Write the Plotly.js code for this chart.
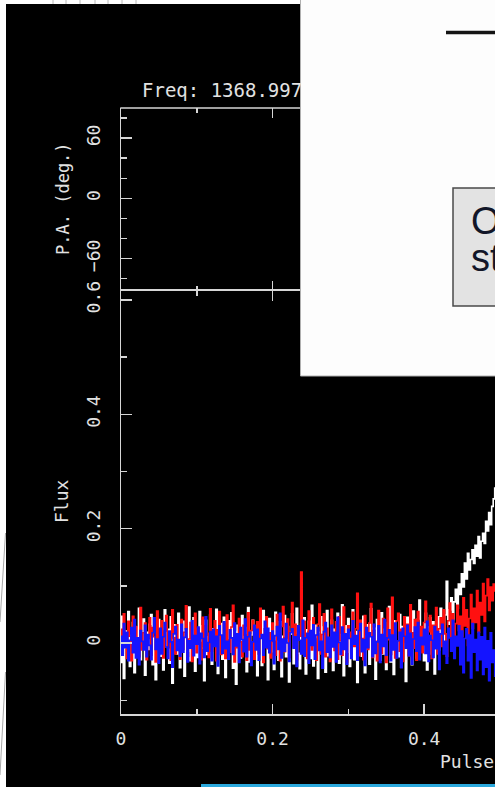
<!DOCTYPE html>
<html>
<head>
<meta charset="utf-8">
<script src="https://cdn.plot.ly/plotly-3.0.1.min.js"></script>
<style>html,body{margin:0;padding:0;background:#000;overflow:hidden}#chart{width:495px;height:787px}</style>
</head>
<body>
<div id="chart"></div>
<script>
// Pulse phase bins: start 0, width 0.002
var phaseStart = 0;
var phaseStep = 0.002;

// Total intensity (white)
var fluxI = [
-0.034,0.047,-0.062,0.021,-0.008,0.055,-0.041,0.013,0.036,-0.052,0.028,-0.017,0.061,-0.029,0.004,0.042,-0.056,0.019,-0.011,0.033,
0.050,-0.038,0.009,-0.064,0.027,0.041,-0.023,0.015,-0.047,0.058,-0.006,0.024,-0.035,0.046,-0.070,0.012,0.032,-0.019,0.052,-0.043,
0.007,0.038,-0.058,0.022,-0.014,0.063,-0.031,0.001,0.044,-0.049,0.018,-0.025,0.055,-0.009,0.030,-0.066,0.040,-0.020,0.011,0.049,
-0.037,0.025,-0.003,0.059,-0.053,0.016,0.034,-0.028,0.045,-0.060,0.008,0.039,-0.016,0.053,-0.044,0.020,-0.072,0.031,0.002,-0.026,
0.048,-0.011,0.027,-0.050,0.062,-0.033,0.014,0.040,-0.021,0.005,-0.057,0.036,0.017,-0.039,0.057,-0.007,0.026,-0.064,0.043,-0.015,
0.021,-0.046,0.054,0.003,-0.030,0.037,-0.059,0.012,0.048,-0.024,0.029,-0.068,0.016,0.051,-0.036,0.009,0.061,-0.018,-0.045,0.034,
-0.005,0.044,-0.054,0.023,0.038,-0.027,0.066,-0.040,0.010,0.031,-0.062,0.019,0.046,-0.013,0.028,-0.051,0.057,-0.022,0.006,0.040,
-0.048,0.024,-0.009,0.052,-0.035,0.015,0.067,-0.057,0.030,-0.016,0.043,-0.041,0.003,0.058,-0.029,0.020,-0.069,0.035,0.011,-0.023,
0.047,-0.052,0.018,0.032,-0.037,0.060,-0.012,0.026,-0.063,0.041,0.007,-0.030,0.053,-0.019,0.036,-0.046,0.014,0.064,-0.033,0.022,
-0.055,0.039,0.001,-0.024,0.050,-0.042,0.029,0.012,-0.067,0.045,-0.008,0.033,-0.038,0.056,0.017,-0.026,0.042,0.075,0.024,0.009,
-0.031,0.052,-0.047,0.028,0.044,-0.019,0.037,-0.054,0.015,0.046,-0.012,0.061,0.020,0.004,0.049,0.108,0.033,0.058,0.079,0.041,
0.072,0.094,0.061,0.103,0.085,0.121,0.098,0.140,0.112,0.157,0.128,0.146,0.163,0.139,0.171,0.152,0.186,0.149,0.178,0.192,
0.174,0.213,0.196,0.228,0.207,0.239,0.252,0.271
];

// Linear polarization (red)
var fluxL = [
0.024,-0.018,0.051,0.006,-0.027,0.038,0.012,-0.031,0.047,-0.009,0.029,0.003,-0.024,0.062,-0.012,0.018,0.035,-0.029,0.008,0.044,
-0.021,0.027,0.011,-0.033,0.056,0.002,-0.015,0.039,-0.026,0.021,0.048,-0.008,0.015,-0.030,0.058,0.009,-0.019,0.032,0.004,-0.028,
0.041,-0.011,0.019,0.065,-0.023,0.007,0.036,-0.032,0.013,0.052,-0.017,0.026,0.001,-0.029,0.045,-0.006,0.030,0.017,-0.025,0.060,
-0.014,0.008,0.039,-0.031,0.023,0.055,-0.020,0.010,0.034,-0.027,0.049,0.005,-0.016,0.028,0.066,-0.033,0.016,-0.008,0.043,0.002,
-0.024,0.031,0.014,-0.030,0.053,-0.012,0.022,0.040,-0.028,0.006,0.037,-0.019,0.061,0.011,-0.034,0.025,0.046,-0.010,0.018,-0.026,
0.035,0.003,-0.021,0.050,0.016,-0.031,0.029,0.064,-0.015,0.009,0.042,-0.025,0.020,0.071,-0.007,0.033,-0.029,0.014,0.012,0.124,
-0.018,0.038,0.007,-0.027,0.056,0.021,-0.012,0.044,0.000,-0.030,0.033,0.068,-0.019,0.015,0.051,-0.024,0.026,0.009,-0.032,0.059,
0.017,-0.013,0.037,-0.028,0.046,0.004,-0.021,0.063,0.012,-0.033,0.030,0.019,-0.016,0.054,-0.006,0.025,0.087,-0.022,0.040,0.008,
-0.029,0.048,0.015,-0.011,0.035,0.069,-0.025,0.022,0.003,-0.031,0.057,0.010,-0.018,0.043,0.027,-0.034,0.061,0.006,-0.020,0.080,
0.013,-0.026,0.039,0.052,-0.014,0.024,-0.032,0.046,0.001,0.033,-0.022,0.067,0.018,-0.009,0.041,-0.030,0.055,0.011,0.029,-0.017,
0.036,0.073,-0.012,0.020,0.048,-0.027,0.031,0.007,0.062,-0.019,0.025,0.044,-0.006,0.058,0.016,-0.023,0.039,0.070,0.004,0.051,
-0.010,0.034,0.066,0.022,0.047,0.012,0.079,0.030,0.058,-0.004,0.043,0.085,0.026,0.061,0.036,0.092,0.019,0.071,0.049,0.104,
0.038,0.083,0.112,0.057,0.098,0.074,0.103,0.091
];

// Circular polarization (blue)
var fluxV = [
0.012,-0.021,0.034,-0.008,0.019,-0.031,0.005,0.027,-0.017,0.041,-0.026,0.009,-0.038,0.022,0.003,-0.012,0.031,-0.024,0.015,-0.004,
-0.029,0.018,0.044,-0.011,0.007,-0.035,0.026,-0.019,0.011,0.036,-0.007,-0.027,0.021,0.002,-0.042,0.016,0.029,-0.013,0.006,-0.023,
0.033,-0.016,0.010,0.025,-0.033,0.004,-0.009,0.039,-0.022,0.013,-0.002,0.028,-0.036,0.017,0.008,-0.025,0.046,-0.014,0.001,0.020,
-0.031,0.024,-0.006,0.012,-0.040,0.030,0.014,-0.018,0.037,-0.010,0.003,-0.028,0.023,0.009,-0.020,0.035,-0.005,0.016,-0.034,0.027,
0.006,-0.015,0.042,-0.024,0.011,0.019,-0.039,0.002,0.031,-0.012,0.024,-0.030,0.008,0.015,-0.021,0.038,-0.008,0.026,-0.017,0.004,
0.021,-0.036,0.013,0.029,-0.011,0.052,-0.026,0.007,-0.014,0.034,0.000,-0.032,0.018,0.025,-0.009,0.011,-0.041,0.030,0.005,-0.019,
0.040,-0.023,0.009,0.017,-0.035,0.022,-0.004,0.032,-0.028,0.014,0.027,-0.013,0.003,-0.044,0.020,0.036,-0.016,0.010,-0.025,0.031,
-0.007,0.019,-0.033,0.045,0.001,-0.020,0.028,-0.011,0.016,-0.037,0.024,0.008,-0.027,0.039,-0.002,0.013,-0.030,0.022,0.034,-0.015,
0.006,-0.039,0.027,-0.008,0.018,0.011,-0.024,0.033,-0.018,0.002,0.030,-0.034,0.015,-0.006,0.041,-0.021,0.009,0.023,-0.031,0.014,
-0.012,0.035,-0.026,0.004,0.019,-0.043,0.026,0.012,-0.009,0.031,-0.022,0.017,-0.037,0.007,0.028,-0.014,0.036,-0.029,0.010,-0.003,
0.024,-0.018,0.038,-0.032,0.013,0.005,-0.025,0.029,-0.010,0.020,-0.046,0.016,0.033,-0.019,0.003,-0.035,0.026,0.009,-0.014,0.040,
-0.027,0.012,-0.005,0.030,-0.038,0.021,-0.052,0.008,0.025,-0.031,0.014,-0.061,0.034,-0.016,0.006,-0.048,0.019,-0.029,0.011,-0.055,
0.027,-0.042,0.004,-0.066,0.018,-0.034,-0.012,-0.058
];

// Position angle points (none visible in this window)
var paPhase = [];
var paDeg = [];

var W = 495, H = 787, ML = 121, MR = 0, MT = 108, MB = 73;
function PX(px){ return (px - ML) / (W - ML - MR); }
function PY(py){ return (H - MB - py) / (H - MT - MB); }

var axCol = '#d6d6d6';
var txtCol = '#e2e2e2';
var mono = 'DejaVu Sans Mono, monospace';

function tr(y, col){
  return {type:'scatter', mode:'lines', x0:phaseStart, dx:phaseStep, y:y,
    xaxis:'x', yaxis:'y', line:{color:col, width:1.6, shape:'hvh'}, hoverinfo:'skip'};
}
var data = [
  tr(fluxI, '#ffffff'),
  tr(fluxL, '#ff1010'),
  tr(fluxV, '#1414ff'),
  {type:'scatter', mode:'markers', x:paPhase, y:paDeg, xaxis:'x2', yaxis:'y2', marker:{color:'#fff', size:3}}
];

var splitY = PY(290.7);
var baseX = {
  ticks:'inside', ticklen:10, tickwidth:1.5, tickcolor:axCol,
  showline:true, linecolor:axCol, linewidth:1.5, mirror:'ticks',
  showgrid:false, zeroline:false, dtick:0.2, tick0:0,
  minor:{dtick:0.1, ticks:'inside', ticklen:5, tickwidth:1.5, tickcolor:axCol, showgrid:false},
  tickfont:{family:mono, size:18, color:txtCol}
};
var layout = {
  width:W, height:H,
  margin:{l:ML, r:MR, t:MT, b:MB, pad:0},
  paper_bgcolor:'#000', plot_bgcolor:'#000',
  showlegend:false,
  xaxis: Object.assign({}, baseX, {domain:[0,1], anchor:'y', range:[0, 0.4934], ticklabelstandoff:8}),
  xaxis2: Object.assign({}, baseX, {domain:[0,1], anchor:'y2', matches:'x', showticklabels:false, showline:false}),
  yaxis: {domain:[0, splitY], anchor:'x', range:[-0.124, 0.616], dtick:0.2, tick0:0,
    ticks:'inside', ticklen:11, tickwidth:1.5, tickcolor:axCol,
    showline:true, linecolor:axCol, linewidth:1.5, showgrid:false, zeroline:false,
    minor:{dtick:0.1, ticks:'inside', ticklen:6, tickwidth:1.5, tickcolor:axCol, showgrid:false},
    tickangle:-90, ticklabelstandoff:12, tickfont:{family:mono, size:18, color:txtCol}},
  yaxis2: {domain:[splitY, 1], anchor:'x2', range:[-92, 90], dtick:60, tick0:0,
    ticks:'inside', ticklen:11, tickwidth:1.5, tickcolor:axCol,
    showline:true, linecolor:axCol, linewidth:1.5, showgrid:false, zeroline:false,
    minor:{dtick:20, ticks:'inside', ticklen:6, tickwidth:1.5, tickcolor:axCol, showgrid:false},
    tickangle:-90, ticklabelstandoff:12, tickfont:{family:mono, size:18, color:txtCol}},
  shapes: [
    // top frame line of the P.A. panel
    {type:'line', xref:'paper', yref:'paper', x0:PX(120.3), x1:PX(505), y0:1, y1:1, line:{color:axCol, width:1.5}, layer:'below'},
    // white strip at left
    {type:'rect', xref:'paper', yref:'paper', x0:PX(-3), x1:PX(6), y0:PY(792), y1:PY(-3), fillcolor:'#ffffff', line:{width:0}, layer:'above'},
    {type:'line', xref:'paper', yref:'paper', x0:PX(5.5), x1:PX(0), y0:PY(533), y1:PY(622), line:{color:'#a8a8a8', width:1}, layer:'above'},
    {type:'line', xref:'paper', yref:'paper', x0:PX(5.5), x1:PX(0), y0:PY(672), y1:PY(775), line:{color:'#a8a8a8', width:1}, layer:'above'},
    // white strip on top
    {type:'rect', xref:'paper', yref:'paper', x0:PX(-3), x1:PX(301), y0:PY(4), y1:PY(-3), fillcolor:'#ffffff', line:{width:0}, layer:'above'},
    {type:'line', xref:'paper', yref:'paper', x0:PX(53), x1:PX(53), y0:PY(4), y1:PY(0), line:{color:'#b8b8b8', width:1}, layer:'above'},
    {type:'line', xref:'paper', yref:'paper', x0:PX(66), x1:PX(66), y0:PY(4), y1:PY(0), line:{color:'#b8b8b8', width:1}, layer:'above'},
    {type:'line', xref:'paper', yref:'paper', x0:PX(80), x1:PX(80), y0:PY(4), y1:PY(0), line:{color:'#b8b8b8', width:1}, layer:'above'},
    {type:'line', xref:'paper', yref:'paper', x0:PX(95), x1:PX(95), y0:PY(4), y1:PY(0), line:{color:'#b8b8b8', width:1}, layer:'above'},
    {type:'line', xref:'paper', yref:'paper', x0:PX(108), x1:PX(108), y0:PY(4), y1:PY(0), line:{color:'#b8b8b8', width:1}, layer:'above'},
    {type:'line', xref:'paper', yref:'paper', x0:PX(122), x1:PX(122), y0:PY(4), y1:PY(0), line:{color:'#b8b8b8', width:1}, layer:'above'},
    {type:'line', xref:'paper', yref:'paper', x0:PX(136), x1:PX(136), y0:PY(4), y1:PY(0), line:{color:'#b8b8b8', width:1}, layer:'above'},
    // overlaid white window
    {type:'rect', xref:'paper', yref:'paper', x0:PX(300.5), x1:PX(505), y0:PY(376), y1:PY(-5), fillcolor:'#fdfdfd', line:{color:'#b0b0b0', width:1}, layer:'above'},
    {type:'line', xref:'paper', yref:'paper', x0:PX(446), x1:PX(505), y0:PY(32.5), y1:PY(32.5), line:{color:'#141414', width:3.5}, layer:'above'},
    {type:'rect', xref:'paper', yref:'paper', x0:PX(453), x1:PX(510), y0:PY(306), y1:PY(188), fillcolor:'#e3e3e3', line:{color:'#4a4a4a', width:1.5}, layer:'above'},
    // cyan line at bottom
    {type:'line', xref:'paper', yref:'paper', x0:PX(201), x1:PX(505), y0:PY(785.5), y1:PY(785.5), line:{color:'#2aa8dc', width:3}, layer:'above'}
  ],
  annotations: [
    {xref:'paper', yref:'paper', x:PX(140), y:PY(89.5), xanchor:'left', yanchor:'middle', showarrow:false,
     text:'Freq: 1368.997', font:{family:mono, size:19, color:txtCol}},
    {xref:'paper', yref:'paper', x:PX(63), y:PY(199), xanchor:'center', yanchor:'middle', showarrow:false, textangle:-90,
     text:'P.A. (deg.)', font:{family:mono, size:17, color:txtCol}},
    {xref:'paper', yref:'paper', x:PX(61), y:PY(501), xanchor:'center', yanchor:'middle', showarrow:false, textangle:-90,
     text:'Flux', font:{family:mono, size:18, color:txtCol}},
    {xref:'paper', yref:'paper', x:PX(499), y:PY(761), xanchor:'center', yanchor:'middle', showarrow:false,
     text:'Pulse phase', font:{family:mono, size:18, color:txtCol}},
    {xref:'paper', yref:'paper', x:PX(469), y:PY(221), xanchor:'left', yanchor:'middle', showarrow:false,
     text:'O', font:{family:'Liberation Sans, Arial, sans-serif', size:38, color:'#121628'}},
    {xref:'paper', yref:'paper', x:PX(469), y:PY(258), xanchor:'left', yanchor:'middle', showarrow:false,
     text:'st', font:{family:'Liberation Sans, Arial, sans-serif', size:38, color:'#121628'}}
  ]
};

Plotly.newPlot('chart', data, layout, {displayModeBar:false, staticPlot:true});
</script>
</body>
</html>
